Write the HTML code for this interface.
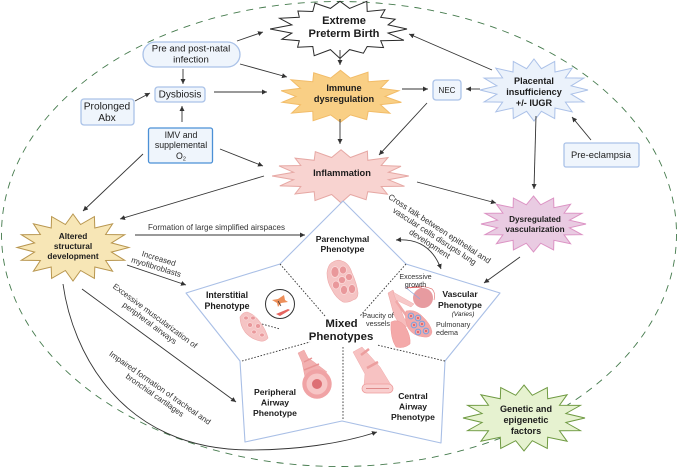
<!DOCTYPE html>
<html><head><meta charset="utf-8"><style>
html,body{margin:0;padding:0;background:#fff}
svg{display:block}
text{font-family:"Liberation Sans",sans-serif;fill:#1c1c1c;text-anchor:middle}
.b{font-weight:bold}
.l{stroke:#333;stroke-width:.9;fill:none;marker-end:url(#a)}
.box{fill:#eff5fc;stroke:#aac2e8;stroke-width:1.3}
.dot{stroke:#333;stroke-width:.9;stroke-dasharray:1.6 1.6;fill:none}
.s{font-size:8px;fill:#333}
.t{font-size:7.2px;fill:#333}
.cell{fill:#e9989b;stroke:#fbdcdc;stroke-width:.7}
</style></head><body>
<svg id="m" xmlns="http://www.w3.org/2000/svg" width="677" height="468" viewBox="0 0 677 468">
<defs>
<marker id="a" markerWidth="8" markerHeight="8" refX="5" refY="2.5" orient="auto" markerUnits="userSpaceOnUse"><path d="M0 0L5 2.5L0 5z" fill="#333"/></marker>
<marker id="b" markerWidth="8" markerHeight="8" refX="0" refY="2.5" orient="auto" markerUnits="userSpaceOnUse"><path d="M5 0L0 2.5L5 5z" fill="#333"/></marker>
</defs>
<ellipse cx="339" cy="234" rx="337.5" ry="232.5" fill="none" stroke="#447a4c" stroke-width=".9" stroke-dasharray="7 6"/>
<g id="stars"></g>

<path d="M343 201L406 264L500 293L445 361L441 443L342 421L245 442L240 361L186 293L280 264Z" fill="none" stroke="#a9bfe6" stroke-width="1.1" stroke-linejoin="round"/>
<path class="dot" d="M280 264L325 316M406 264L360 316M242 361L310 342M445 361L377 345M343 419V347M262 324L280 329"/>

<path class="l" d="M237 41L263 32"/><path class="l" d="M240 64L287 77"/><path class="l" d="M183 69V84"/>
<path class="l" d="M135 101L150 93"/><path class="l" d="M214 92H267"/><path class="l" d="M182 122V106"/>
<path class="l" d="M220 149L263 166"/><path class="l" d="M143 154L83 211"/><path class="l" d="M264 176L120 219"/>
<path class="l" d="M340 50V65"/><path class="l" d="M340 119V144"/><path class="l" d="M402 89H428"/>
<path class="l" d="M480 89H466"/><path class="l" d="M492 70L409 34"/><path class="l" d="M591 140L572 117"/>
<path class="l" d="M536 116L534 189"/><path class="l" d="M427 103L379 155"/><path class="l" d="M417 182L496 203"/>
<path class="l" d="M520 257L484 283"/><path class="l" d="M135 235H305"/><path class="l" d="M127 265L186 285"/>
<path class="l" d="M82 289L236 402"/>
<path class="l" d="M63 284C72 350 120 450 250 450C295 450 340 444 377 432"/>
<path class="l" d="M396 240C420 238 434 250 441 269" style="marker-start:url(#b)"/>

<!-- parenchymal -->
<path d="M327 273Q328 264 333 262Q338 259 342 261Q349 263 352 273Q357 284 358 293Q358 299 353 300Q348 303 343 302Q336 298 332 290Q327 282 327 273Z" fill="#f5c4c4" stroke="#eeaaaa" stroke-width=".6"/>
<ellipse class="cell" cx="335" cy="272" rx="4" ry="5.500"/><ellipse class="cell" cx="343" cy="270" rx="3.500" ry="4"/><ellipse class="cell" cx="349" cy="277" rx="3.500" ry="3.500"/>
<ellipse class="cell" cx="342" cy="280" rx="3.500" ry="3.500"/><ellipse class="cell" cx="336" cy="285" rx="3.500" ry="4"/><ellipse class="cell" cx="344" cy="290" rx="3.500" ry="4.500"/><ellipse class="cell" cx="352" cy="289" rx="3.500" ry="4.500"/>
<!-- interstitial -->
<path d="M240 317Q243 312 247 312Q254 314 260 322Q266 330 268 338Q265 342 260 341Q251 339 245 332Q240 325 240 317Z" fill="#f5c4c4" stroke="#eeaaaa" stroke-width=".6"/>
<ellipse class="cell" cx="246" cy="318" rx="2.300" ry="2"/><ellipse class="cell" cx="253" cy="318" rx="2.300" ry="2"/><ellipse class="cell" cx="250" cy="325" rx="2.500" ry="2.300"/><ellipse class="cell" cx="258" cy="326" rx="2.500" ry="2.300"/><ellipse class="cell" cx="254" cy="332" rx="2.300" ry="2"/><ellipse class="cell" cx="262" cy="335" rx="2.300" ry="2"/>
<!-- peripheral airway -->
<path d="M298 353L304 350L308 358L314 362L327 372L306 382L303 367L302 362Z" fill="#f2b0b0" stroke="#eca0a0" stroke-width=".5"/>
<path d="M304 362L312 358M304 370L319 364" stroke="#e89595" stroke-width="1.500" fill="none"/>
<circle cx="317" cy="384" r="14.700" fill="#f0a3a5"/><circle cx="317" cy="384" r="10.500" fill="#f7c6c6"/><circle cx="317" cy="384" r="5" fill="#dd6f74"/>
<!-- central airway -->
<path d="M353 352L362 347L380 367L391 385L364 385L365 374Z" fill="#f7c2c2" stroke="#f0aaaa" stroke-width=".5"/>
<path d="M361 355L369 349M367 368L378 362" stroke="#ec9e9e" stroke-width="2.500" fill="none"/>
<rect x="362" y="384" width="31" height="9" rx="4.500" fill="#f9cfcf" stroke="#ee9c9c" stroke-width=".8"/>
<path d="M366 388.500H389" stroke="#df8a8a" stroke-width="1"/>
<!-- vascular lungs -->
<path d="M388 293L393 290L404 318L410 326L401 327L394 315Z" fill="#f6bcbc" stroke="#eda3a3" stroke-width=".5"/>
<path d="M393 292L414 304L411 307L396 300Z" fill="#f7c9c9" stroke="#eda3a3" stroke-width=".4"/>
<path d="M396 301L408 318" stroke="#f0a8a8" stroke-width="2.500"/>
<path d="M391 322Q398 318 405 326Q411 336 410 344Q404 349 396 347Q390 338 391 322Z" fill="#f4a9a9" stroke="#ee9999" stroke-width=".5"/>
<circle cx="423" cy="298" r="10" fill="#e79ba0"/>
<path d="M406 311Q414 309 421 315Q431 324 432 332Q431 338 424 337Q413 336 408 328Q404 318 406 311Z" fill="#f3a9a9" stroke="#ef9c9c" stroke-width=".5"/>
<g fill="none" stroke="#7fa4de" stroke-width="1.100"><circle cx="411" cy="316" r="2.800"/><circle cx="418" cy="318" r="2.800"/><circle cx="414" cy="325" r="2.800"/><circle cx="422" cy="324" r="2.800"/><circle cx="418" cy="332" r="2.800"/><circle cx="426" cy="331" r="2.800"/></g>
<g fill="#e0555a"><circle cx="411" cy="316" r="1"/><circle cx="418" cy="318" r="1"/><circle cx="414" cy="325" r="1"/><circle cx="422" cy="324" r="1"/><circle cx="418" cy="332" r="1"/><circle cx="426" cy="331" r="1"/></g>
<path d="M410 288Q420 284 432 289Q436 293 434 300" fill="none" stroke="#e37b7b" stroke-width=".7"/>
<path d="M405 288Q415 287 422 288" fill="none" stroke="#e0565a" stroke-width=".8"/>
<path d="M405 287L420 299" stroke="#8fa8dd" stroke-width=".8"/>
<!-- inset -->
<circle cx="280" cy="304" r="14.500" fill="#fff" stroke="#333" stroke-width="1"/>
<path d="M272 300l6-1 6-4 1 5 3 2-7 1-3 4-1-4z" fill="#ed8f5a"/>
<path d="M276 314l12-5 2 1-10 6z" fill="#e5645f"/>
<path d="M281 306L278 301" stroke="#222" stroke-width=".7"/>

<!-- boxes -->
<rect class="box" x="143" y="42" width="97" height="25" rx="12.500"/>
<rect class="box" x="155" y="87" width="50" height="15" rx="3"/>
<rect class="box" x="81" y="99" width="53" height="26" rx="3"/>
<rect class="box" x="148.500" y="128" width="64" height="35" rx="2" style="stroke:#4b90d6"/>
<rect class="box" x="433" y="80" width="28" height="20" rx="3"/>
<rect class="box" x="564" y="143" width="75" height="24" rx="2"/>

<text x="191" y="51.500" font-size="9.600">Pre and post-natal</text><text x="191" y="62.500" font-size="9.600">infection</text>
<text x="180" y="97.500" font-size="10">Dysbiosis</text>
<text x="107" y="109.500" font-size="10.200">Prolonged</text><text x="107" y="121" font-size="10.200">Abx</text>
<text x="181" y="138" font-size="8.800">IMV and</text><text x="181" y="148" font-size="8.800">supplemental</text><text x="181" y="159" font-size="8.800">O<tspan font-size="5.500" dy="1.500">2</tspan></text>
<text x="447" y="93" font-size="8">NEC</text>
<text x="601" y="158" font-size="9.400">Pre-eclampsia</text>

<text class="b" x="344" y="24" font-size="11.100">Extreme</text><text class="b" x="344" y="37" font-size="11.100">Preterm Birth</text>
<text class="b" x="344" y="91" font-size="9.200">Immune</text><text class="b" x="344" y="102" font-size="9.200">dysregulation</text>
<text class="b" x="342" y="176" font-size="9.300">Inflammation</text>
<text class="b" x="534" y="84" font-size="9.100">Placental</text><text class="b" x="534" y="95" font-size="9.100">insufficiency</text><text class="b" x="534" y="106" font-size="9.100">+/- IUGR</text>
<text class="b" x="535" y="222" font-size="8.200">Dysregulated</text><text class="b" x="535" y="232" font-size="8.200">vascularization</text>
<text class="b" x="73" y="239" font-size="8.300">Altered</text><text class="b" x="73" y="249" font-size="8.300">structural</text><text class="b" x="73" y="259" font-size="8.300">development</text>
<text class="b" x="526" y="412" font-size="9.100">Genetic and</text><text class="b" x="526" y="423" font-size="9.100">epigenetic</text><text class="b" x="526" y="434" font-size="9.100">factors</text>
<text class="b" x="342.500" y="242" font-size="8.600">Parenchymal</text><text class="b" x="342.500" y="252" font-size="8.600">Phenotype</text>
<text class="b" x="227" y="298" font-size="8.800">Interstitial</text><text class="b" x="227" y="309" font-size="8.800">Phenotype</text>
<text class="b" x="275" y="395" font-size="8.600">Peripheral</text><text class="b" x="275" y="405.500" font-size="8.600">Airway</text><text class="b" x="275" y="416" font-size="8.600">Phenotype</text>
<text class="b" x="413" y="399" font-size="8.600">Central</text><text class="b" x="413" y="409.500" font-size="8.600">Airway</text><text class="b" x="413" y="420" font-size="8.600">Phenotype</text>
<text class="b" x="460" y="297" font-size="8.600">Vascular</text><text class="b" x="460" y="308" font-size="8.600">Phenotype</text>
<text class="b" x="341.500" y="327" font-size="11.400">Mixed</text><text class="b" x="341" y="340" font-size="11.400">Phenotypes</text>
<text x="463" y="316" font-size="6.600" font-style="italic" fill="#333">(Varies)</text>

<text class="s" x="216.500" y="230">Formation of large simplified airspaces</text>
<text class="t" x="415.500" y="279">Excessive</text><text class="t" x="415.500" y="287">growth</text>
<text class="t" x="378" y="318">Paucity of</text><text class="t" x="378" y="326">vessels</text>
<text class="t" style="text-anchor:start" x="436" y="327">Pulmonary</text><text class="t" style="text-anchor:start" x="436" y="335">edema</text>
<g transform="translate(158 261) rotate(17)"><text class="s" x="0" y="0">Increased</text><text class="s" x="0" y="9">myofibroblasts</text></g>
<g transform="translate(153.500 318) rotate(36.500)"><text class="s" x="0" y="0">Excessive muscularization of</text><text class="s" x="0" y="9">peripheral airways</text></g>
<g transform="translate(158.500 390) rotate(35)"><text class="s" x="0" y="0">Impaired formation of tracheal and</text><text class="s" x="0" y="9">bronchial cartilages</text></g>
<g transform="translate(438 231) rotate(33)"><text class="s" style="font-size:8.200px" x="0" y="0">Cross talk between epithelial and</text><text class="s" style="font-size:8.200px" x="0" y="9">vascular cells disrupts lung</text><text class="s" style="font-size:8.200px" x="0" y="18">development</text></g>
</svg>
<script>
var S=[[340,29,70,30,16,'#fff','#2a2a2a',.15],[340.5,96.5,63.5,27,14,'#f9cf85','#f2bc68',.06],[341,176,69,27,16,'#f8d3d0','#e6a8a4',.06],
[534,90,54,31,16,'#ebf2fb','#abc1e8',0],[533.5,224,52.5,28,16,'#e9cbe2','#dc93c4',0],[73,247.5,56,33.5,16,'#f7e6b6','#b8964f',0],[524,418,61,33,16,'#e6f2d0','#6f9a42',0]];
var h='';S.forEach(function(s){var n=s[4],p=[];for(var i=0;i<n*2;i++){var a=i*Math.PI/n-Math.PI/2,k=i%2?0.7:1-s[7]*(Math.sin(i*2.3)+1)/2;
p.push((s[0]+s[2]*k*Math.cos(a)).toFixed(1)+','+(s[1]+s[3]*k*Math.sin(a)).toFixed(1));}
h+='<polygon points="'+p.join(' ')+'" fill="'+s[5]+'" stroke="'+s[6]+'" stroke-width="1" stroke-linejoin="miter"/>';});
document.getElementById('stars').innerHTML=h;
</script>
</body></html>
